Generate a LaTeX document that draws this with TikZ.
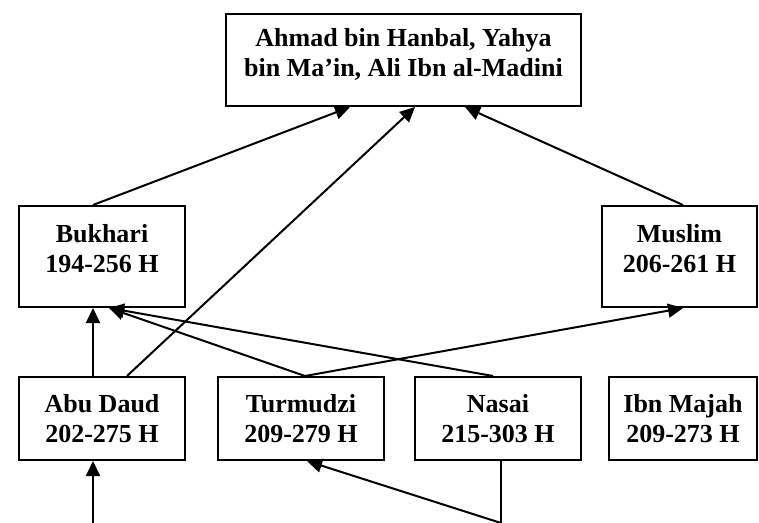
\documentclass[tikz,border=0pt]{standalone}
\usepackage{fontspec}
\setmainfont{Liberation Serif}
\usepackage{tikz}
\usetikzlibrary{positioning}
\usetikzlibrary{shapes,calc,arrows.meta}

\begin{document}
\begin{tikzpicture}[x=0.5pt,y=-0.5pt,>={Triangle[length=7.5pt,width=7pt]},
  line width=1pt,
  box/.style={draw,rectangle,align=center,inner sep=0pt,
    font=\fontsize{13pt}{15pt}\selectfont\bfseries},
  upper/.style={text depth=8pt}]
\useasboundingbox (0,0) rectangle (759,523);
\node[box,upper,minimum width=177.5pt,minimum height=46pt] at (403.5,60) (Imam)
  {Ahmad bin Hanbal, Yahya\\bin Ma’in, Ali Ibn al-Madini};
\node[box,upper,minimum width=83pt,minimum height=50.5pt] at (102,256.5) (Bukhari) {Bukhari\\194-256 H};
\node[box,upper,minimum width=77.5pt,minimum height=50.5pt] at (679.5,256.5) (Muslim) {Muslim\\206-261 H};
\node[box,minimum width=83pt,minimum height=41.5pt] at (102,418.5) (AbuDaud) {Abu Daud\\202-275 H};
\node[box,minimum width=83pt,minimum height=41.5pt] at (301,418.5) (Turmudzi) {Turmudzi\\209-279 H};
\node[box,minimum width=83pt,minimum height=41.5pt] at (498,418.5) (Nasai) {Nasai\\215-303 H};
\node[box,minimum width=74pt,minimum height=41.5pt] at (683,418.5) (IbnMajah) {Ibn Majah\\209-273 H};
\coordinate (daudIn) at (93,523);
\coordinate (nasaiOut) at (501,523);
% to the teachers
\draw[->] ($(Bukhari.north)+(-9,0)$) -- ($(Imam.south)+(-53.5,0)$);
\draw[->] ($(AbuDaud.north)+(25,0)$) -- ($(Imam.south)+(11.5,0)$);
\draw[->] ($(Muslim.north)+(3.5,0)$) -- ($(Imam.south)+(61.5,0)$);
% to Bukhari and Muslim
\draw[->] ($(AbuDaud.north)+(-9,0)$) -- ($(Bukhari.south)+(-9,0)$);
\draw[->] ($(Turmudzi.north)+(4,0)$) -- ($(Bukhari.south)+(7,0)$);
\draw[->] ($(Nasai.north)+(-5,0)$) -- ($(Bukhari.south)+(7,0)$);
\draw[->] ($(Turmudzi.north)+(4,0)$) -- ($(Muslim.south)+(3.5,0)$);
% lower lines
\draw[->] (daudIn) -- ($(AbuDaud.south)+(-9,0)$);
\draw ($(Nasai.south)+(3,0)$) -- (nasaiOut);
\draw[->] (nasaiOut) -- ($(Turmudzi.south)+(6,0)$);
\end{tikzpicture}
\end{document}
